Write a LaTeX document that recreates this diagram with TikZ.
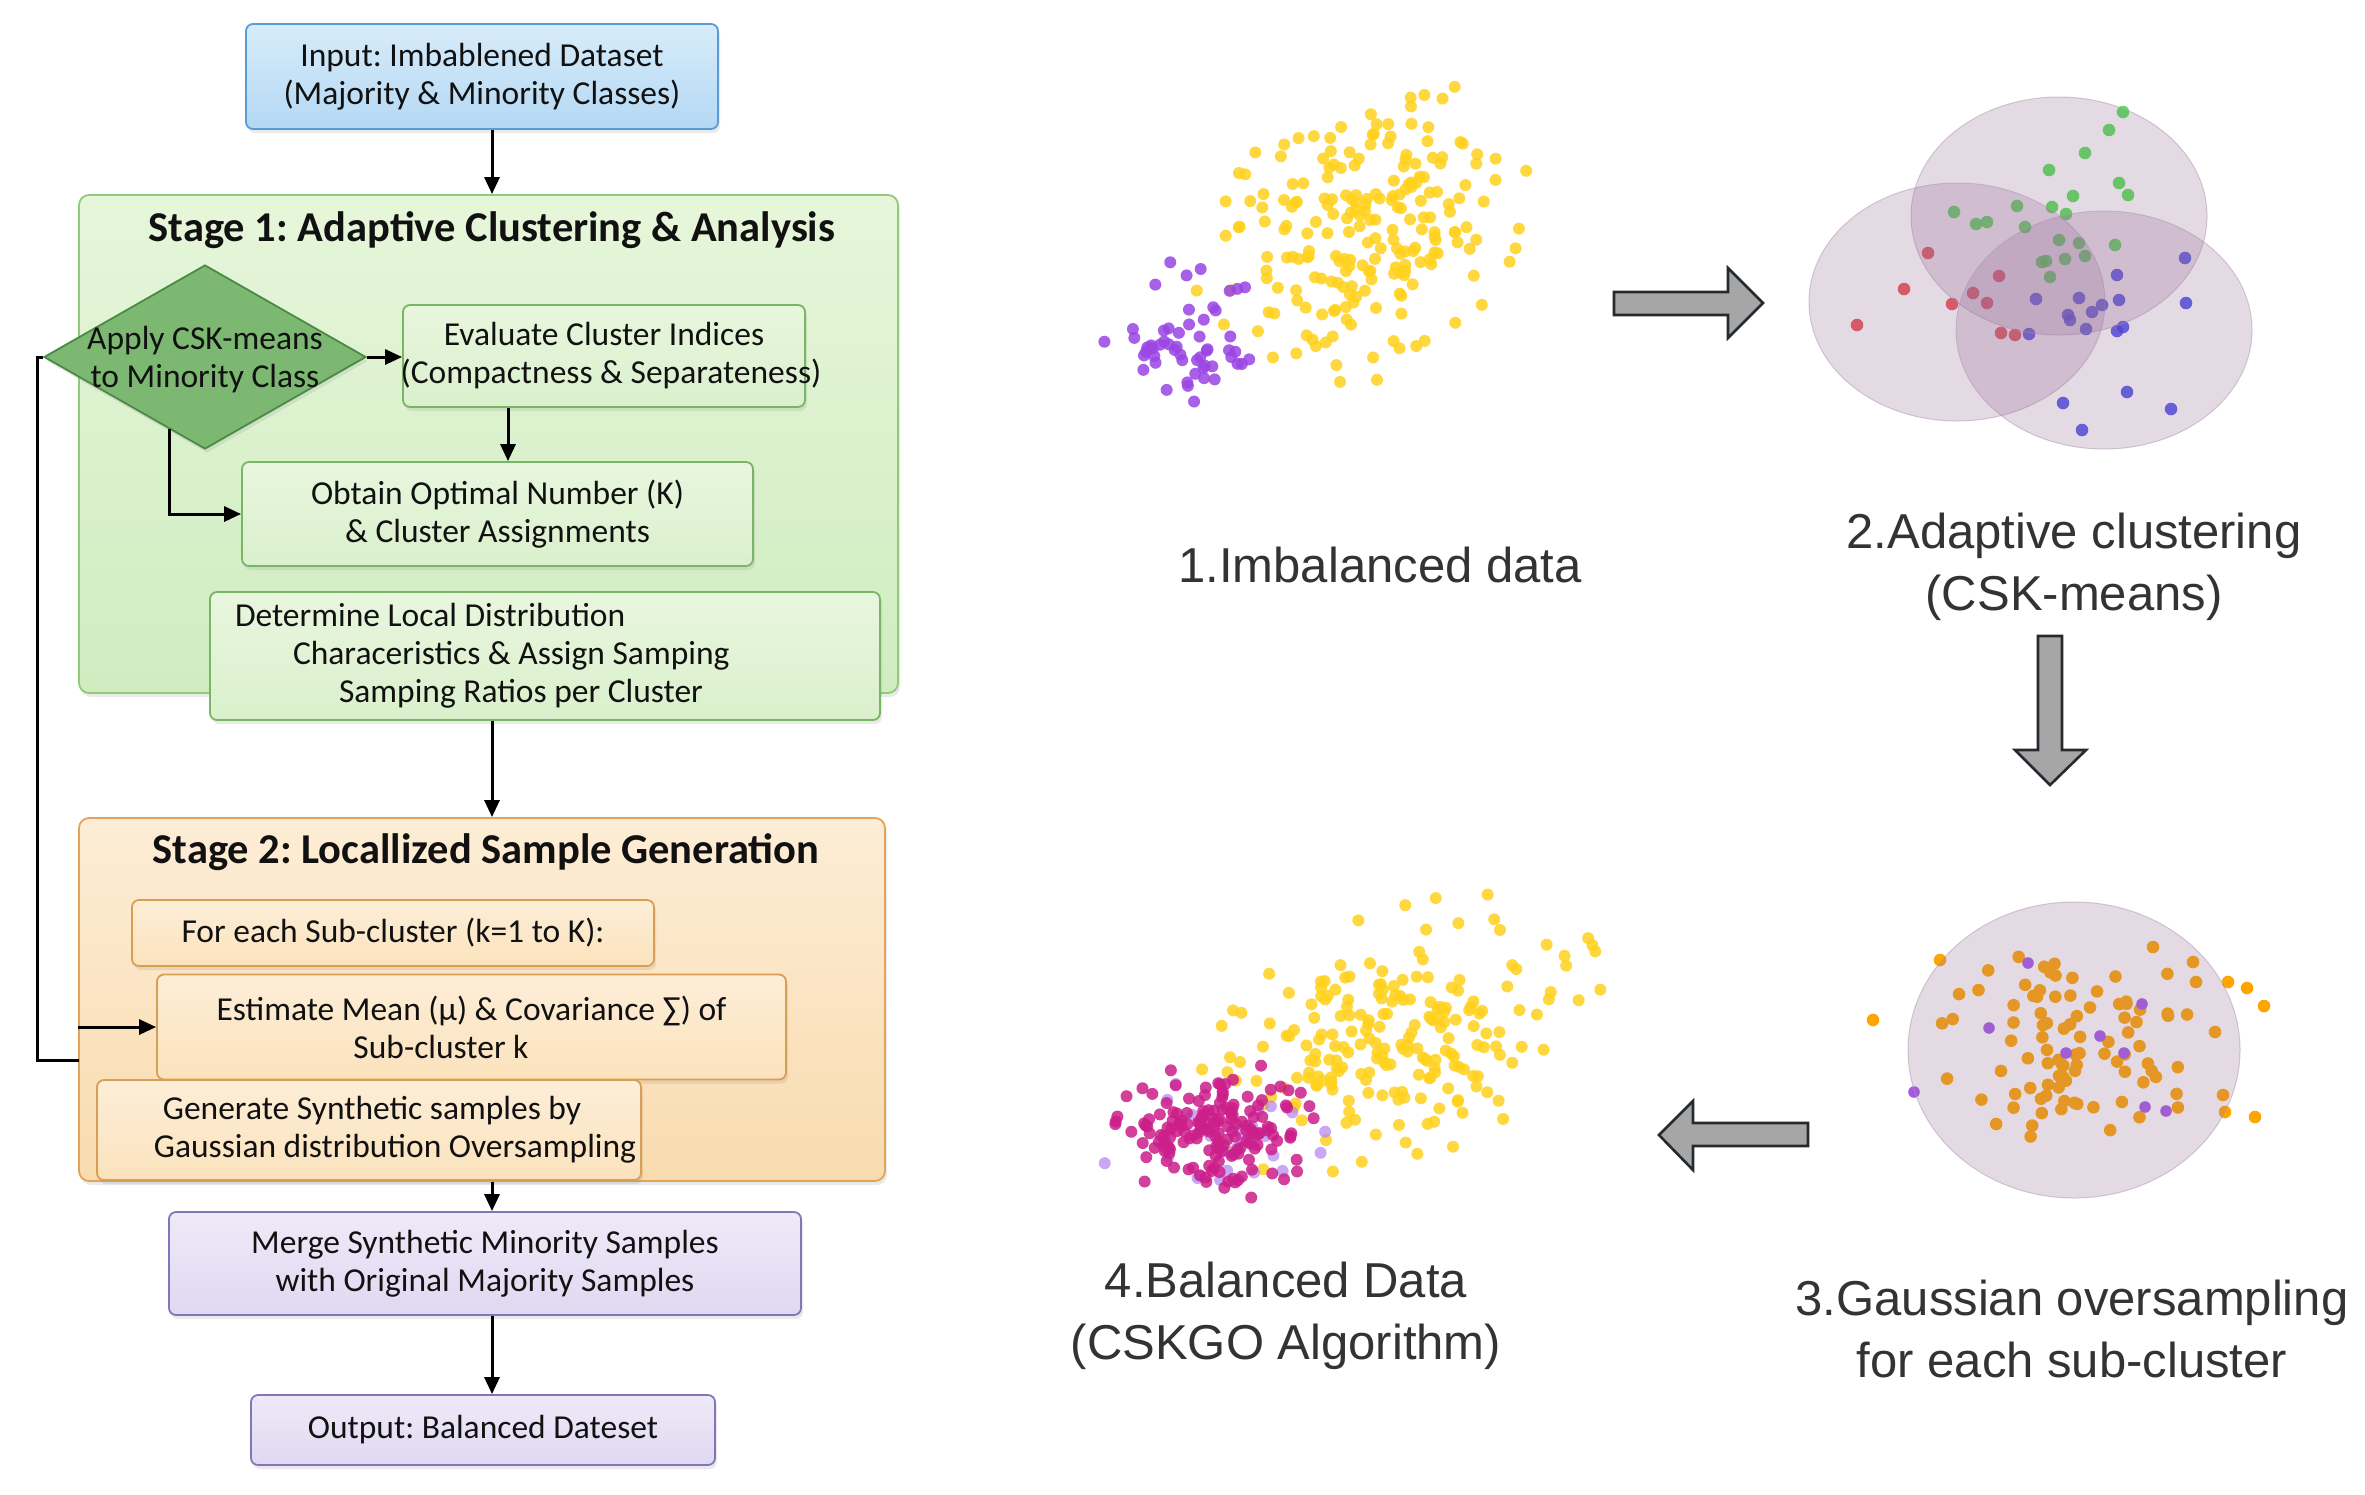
\documentclass[tikz,border=0pt]{standalone}
\usepackage{fontspec}
\setmainfont{Carlito}
\newfontfamily\arialf{Liberation Sans}
\usetikzlibrary{shapes.geometric,arrows.meta,shadows,calc}
\frenchspacing
\definecolor{txt}{HTML}{111111}
\definecolor{labc}{HTML}{333333}
\definecolor{btop}{HTML}{D8ECFA}\definecolor{bbot}{HTML}{B3D8F4}\definecolor{bbord}{HTML}{5B9BD5}
\definecolor{s1top}{HTML}{E6F6DA}\definecolor{s1bot}{HTML}{D0ECC0}\definecolor{s1bord}{HTML}{8FCB78}
\definecolor{gtop}{HTML}{E8F6DE}\definecolor{gbot}{HTML}{DAF0CC}\definecolor{gbord}{HTML}{78B565}
\definecolor{dfill}{HTML}{7DB872}\definecolor{dbord}{HTML}{4A8A45}
\definecolor{s2top}{HTML}{FDEDD6}\definecolor{s2bot}{HTML}{F9DBAE}\definecolor{s2bord}{HTML}{E2A45C}
\definecolor{otop}{HTML}{FDEED8}\definecolor{obot}{HTML}{FBE2BC}\definecolor{obord}{HTML}{D99E55}
\definecolor{ptop}{HTML}{EFEAF9}\definecolor{pbot}{HTML}{DFD8F1}\definecolor{pbord}{HTML}{8474B8}
\definecolor{arrfill}{HTML}{A6A6A6}\definecolor{arrbord}{HTML}{252A30}
\definecolor{yel}{HTML}{FFD21E}
\definecolor{pur}{HTML}{9B45E4}
\definecolor{mag}{HTML}{CC1F8A}
\definecolor{lpur}{HTML}{B383F2}
\definecolor{orng}{HTML}{FFA500}
\definecolor{grn}{HTML}{3FDC3F}
\definecolor{rd}{HTML}{E8383C}
\definecolor{blu}{HTML}{3C3CE8}
\definecolor{clfill}{RGB}{150,110,150}
\definecolor{clbord}{RGB}{175,150,180}
\begin{document}
\begin{tikzpicture}[x=1pt,y=-1pt,
  fc/.style={font=\fontsize{33.5}{38}\selectfont},
  box/.style={draw, rounded corners=7pt, line width=1.8pt, inner sep=0pt, align=center, fc, text=txt,
     drop shadow={opacity=0.16,shadow xshift=2pt,shadow yshift=-4pt}},
  inbox/.style={box, draw=bbord, top color=btop, bottom color=bbot},
  stage1box/.style={box, rounded corners=10pt, draw=s1bord, top color=s1top, bottom color=s1bot},
  gbox/.style={box, draw=gbord, top color=gtop, bottom color=gbot},
  stage2box/.style={box, rounded corners=10pt, draw=s2bord, top color=s2top, bottom color=s2bot},
  obox/.style={box, draw=obord, top color=otop, bottom color=obot},
  pbox/.style={box, draw=pbord, top color=ptop, bottom color=pbot},
  ttl/.style={font=\fontsize{42.5}{48}\selectfont\bfseries, text=txt},
  lab/.style={font=\arialf\fontsize{49}{62}\selectfont, text=labc, align=center},
  conn/.style={line width=3pt, draw=black},
  arr/.style={conn, -{Triangle[length=17pt,width=15pt]}},
  blockarrow/.style={fill=arrfill, draw=arrbord, line width=2.6pt, line join=miter},
  dot/.style={opacity=0.85},
  clus/.style={fill=clfill, fill opacity=0.25, draw=clbord, draw opacity=0.5, line width=1pt}
]
\useasboundingbox (0,0) rectangle (2365,1494);
\fill[white] (0,0) rectangle (2365,1494);

% ---------------- flowchart ----------------
\coordinate (axis) at (492,0);
\coordinate (axis2) at (508,0);
\coordinate (fbend) at (79,1060);

\node[inbox, minimum width=472pt, minimum height=105pt] (input) at (482,76.5)
  {Input: Imbablened Dataset\\(Majority \& Minority Classes)};

\node[stage1box, minimum width=819pt, minimum height=498pt] (stage1) at (488.5,444) {};
\node[ttl] (title1) at (492,230) {Stage 1: Adaptive Clustering \& Analysis};

\node[diamond, draw=dbord, fill=dfill, line width=1.8pt, minimum width=322pt, minimum height=184pt,
  inner sep=0pt, drop shadow={opacity=0.16,shadow xshift=2pt,shadow yshift=-4pt}] (apply) at (205,357) {};
\node[fc, align=center, text=txt] (applytxt) at (205,360) {Apply CSK-means\\to Minority Class};

\node[gbox, minimum width=402pt, minimum height=102pt] (evaluate) at (604,356)
  {Evaluate Cluster Indices\\\makebox[390pt][c]{\hspace*{14pt}(Compactness \& Separateness)}};
\node[gbox, minimum width=511pt, minimum height=104pt] (obtain) at (497.5,514)
  {Obtain Optimal Number (K)\\\& Cluster Assignments};
\node[gbox, minimum width=670pt, minimum height=128pt, text width=620pt, inner xsep=25pt, align=flush left] (determine) at (545,656)
  {Determine Local Distribution\\\hspace*{58pt}Characeristics \& Assign Samping\\\hspace*{104pt}Samping Ratios per Cluster};

\node[stage2box, minimum width=806pt, minimum height=363pt] (stage2) at (482,999.5) {};
\node[ttl] (title2) at (486,852) {Stage 2: Locallized Sample Generation};

\node[obox, minimum width=522pt, minimum height=66pt] (foreach) at (393,933)
  {For each Sub-cluster (k=1 to K):};
\node[obox, minimum width=629pt, minimum height=105pt] (estimate) at (471.5,1027)
  {Estimate Mean (μ) \& Covariance ∑) of\\Sub-cluster k\hspace*{61pt}};
\node[obox, minimum width=544pt, minimum height=100pt, align=left] (generate) at (369,1130)
  {\hspace*{61pt}Generate Synthetic samples by\\\hspace*{52pt}Gaussian distribution Oversampling};

\node[pbox, minimum width=632pt, minimum height=103pt] (merge) at (485,1263.5)
  {Merge Synthetic Minority Samples\\with Original Majority Samples};
\node[pbox, minimum width=464pt, minimum height=70pt] (output) at (483,1430)
  {Output: Balanced Dateset};

% connectors
\draw[arr] (input.south -| axis) -- (stage1.north -| axis);
\draw[arr] (apply.east) -- (evaluate.west |- apply.east);
\draw[arr] (evaluate.south -| axis2) -- (obtain.north -| axis2);
\draw[arr] ($(apply.west)!0.78!(apply.south)$) |- (obtain.west);
\draw[arr] (determine.south -| axis) -- (stage2.north -| axis);
\draw[conn] (apply.west) -- ++(-6,0) |- (fbend);
\draw[arr] (stage2.west |- estimate.west) -- (estimate.west);
\draw[arr] (stage2.south -| axis) -- (merge.north -| axis);
\draw[arr] (merge.south -| axis) -- (output.north -| axis);

% ---------------- plot 1: imbalanced data ----------------
\pgfmathsetseed{7}
\foreach \i in {1,...,215}{%
  \pgfmathsetmacro{\qr}{min(sqrt(-2*ln(max(rnd,0.001))),2.5)}%
  \pgfmathsetmacro{\qa}{360*rnd}%
  \pgfmathsetmacro{\qx}{1362+\qr*(60*cos(\qa)+28*sin(\qa))}%
  \pgfmathsetmacro{\qy}{236+\qr*(-42*cos(\qa)+46*sin(\qa))}%
  \fill[yel,dot] (\qx,\qy) circle[radius=6pt];
}
\foreach \i in {1,...,55}{%
  \pgfmathsetmacro{\qr}{min(sqrt(-2*ln(max(rnd,0.001))),2.4)}%
  \pgfmathsetmacro{\qa}{360*rnd}%
  \pgfmathsetmacro{\qx}{1186+\qr*34*cos(\qa)}%
  \pgfmathsetmacro{\qy}{340+\qr*33*sin(\qa)}%
  \fill[pur,dot] (\qx,\qy) circle[radius=6pt];
}
\node[lab] (lab1) at (1380,565) {1.Imbalanced data};

% ---------------- plot 2: adaptive clustering ----------------
\foreach \p in {(2123,112),(2109,130),(2085,153),(2049,170),(2119,183),(2128,195),(2073,196),(2017,206),(2052,207),(2066,214),(1954,212),(1976,224),(1987,222),(2025,227),(2059,240),(2079,243),(2115,245),(2085,256),(2065,259),(2042,262),(2046,261),(2050,277)}
  \fill[grn,dot] \p circle[radius=6.3pt];
\foreach \p in {(1928,253),(1999,276),(1904,289),(1952,304),(1973,293),(1987,303),(1857,325),(2001,333),(2015,335)}
  \fill[rd,dot] \p circle[radius=6.3pt];
\foreach \p in {(2185,258),(2117,275),(2186,303),(2036,299),(2079,298),(2119,300),(2102,305),(2092,312),(2068,315),(2070,320),(2086,329),(2123,327),(2117,331),(2029,334),(2127,392),(2063,403),(2171,409),(2082,430)}
  \fill[blu,dot] \p circle[radius=6.3pt];
\path[clus] (2059,216) ellipse[x radius=148pt, y radius=119pt];
\path[clus] (1957,302) ellipse[x radius=148pt, y radius=119pt];
\path[clus] (2104,330) ellipse[x radius=148pt, y radius=119pt];
\node[lab] (lab2) at (2074,567) {2.Adaptive clustering\\(CSK-means)};

% ---------------- plot 3: gaussian oversampling ----------------
\pgfmathsetseed{31}
\foreach \i in {1,...,90}{%
  \pgfmathsetmacro{\qr}{min(sqrt(-2*ln(max(rnd,0.001))),2.2)}%
  \pgfmathsetmacro{\qa}{360*rnd}%
  \pgfmathsetmacro{\qx}{2075+\qr*62*cos(\qa)}%
  \pgfmathsetmacro{\qy}{1045+\qr*44*sin(\qa)}%
  \fill[orng] (\qx,\qy) circle[radius=6.3pt];
}
\foreach \p in {(2153,947),(2193,962),(2196,982),(1873,1020),(1940,960),(2228,982),(2247,988),(2264,1006),(2255,1117),(2225,1112),(2223,1095),(2215,1032)}
  \fill[orng] \p circle[radius=6.3pt];
\foreach \p in {(2028,963),(1989,1028),(2100,1036),(2142,1004),(2066,1053),(2124,1053),(2145,1107),(2166,1111),(1914,1092)}
  \fill[pur!90] \p circle[radius=5.8pt];
\path[clus] (2074,1050) ellipse[x radius=166pt, y radius=148pt];
\node[lab] (lab3) at (2072,1329) {3.Gaussian oversampling\\for each sub-cluster};

% ---------------- plot 4: balanced data ----------------
\pgfmathsetseed{11}
\foreach \i in {1,...,215}{%
  \pgfmathsetmacro{\qr}{min(sqrt(-2*ln(max(rnd,0.001))),2.5)}%
  \pgfmathsetmacro{\qa}{360*rnd}%
  \pgfmathsetmacro{\qx}{1400+\qr*(76*cos(\qa)+26*sin(\qa))}%
  \pgfmathsetmacro{\qy}{1036+\qr*(-38*cos(\qa)+42*sin(\qa))}%
  \fill[yel,dot] (\qx,\qy) circle[radius=6pt];
}
\foreach \i in {1,...,28}{%
  \pgfmathsetmacro{\qr}{min(sqrt(-2*ln(max(rnd,0.001))),2.4)}%
  \pgfmathsetmacro{\qa}{360*rnd}%
  \pgfmathsetmacro{\qx}{1210+\qr*48*cos(\qa)}%
  \pgfmathsetmacro{\qy}{1130+\qr*34*sin(\qa)}%
  \fill[lpur,opacity=0.7] (\qx,\qy) circle[radius=6pt];
}
\foreach \i in {1,...,165}{%
  \pgfmathsetmacro{\qr}{min(sqrt(-2*ln(max(rnd,0.001))),2.5)}%
  \pgfmathsetmacro{\qa}{360*rnd}%
  \pgfmathsetmacro{\qx}{1215+\qr*40*cos(\qa)}%
  \pgfmathsetmacro{\qy}{1130+\qr*29*sin(\qa)}%
  \fill[mag,dot] (\qx,\qy) circle[radius=6pt];
}
\node[lab] (lab4) at (1286,1316) {4.Balanced Data\\(CSKGO Algorithm)};

% ---------------- block arrows ----------------
\draw[blockarrow] (1614,292) -- (1728,292) -- (1728,268) -- (1763,303) -- (1728,338) -- (1728,315) -- (1614,315) -- cycle;
\draw[blockarrow] (2038,636) -- (2062,636) -- (2062,750) -- (2086,750) -- (2050,785) -- (2015,750) -- (2038,750) -- cycle;
\draw[blockarrow] (1808,1123) -- (1693,1123) -- (1693,1101) -- (1659,1135) -- (1693,1170) -- (1693,1146) -- (1808,1146) -- cycle;
\end{tikzpicture}
\end{document}
